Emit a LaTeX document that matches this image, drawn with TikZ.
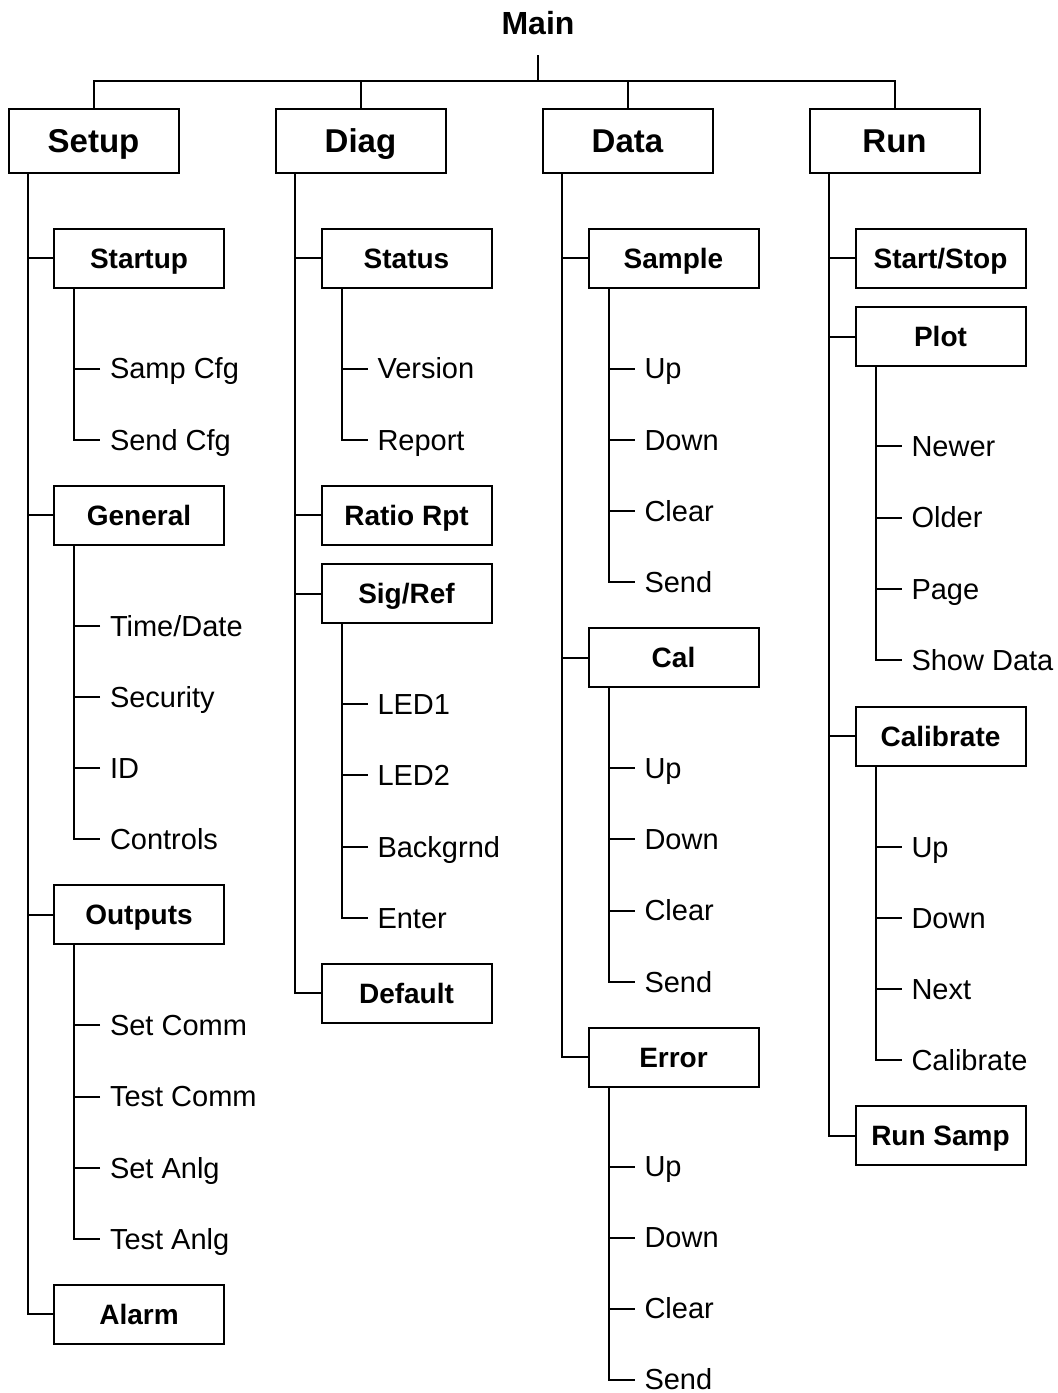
\documentclass[tikz,border=0pt]{standalone}
\usepackage{fontspec}
\setmainfont{Liberation Sans}
\usetikzlibrary{calc}
\tikzset{
  conn/.style={line width=2pt},
  topbox/.style={draw, line width=2pt, outer sep=0pt, inner sep=0pt,
    minimum width=170pt, minimum height=64pt,
    font=\bfseries\fontsize{33}{33}\selectfont, text height=23.6pt, text depth=0pt},
  subbox/.style={topbox, minimum height=59pt,
    font=\bfseries\fontsize{28}{28}\selectfont, text height=20pt},
  leaf/.style={anchor=west, inner sep=0pt, outer sep=0pt,
    font=\fontsize{29}{29}\selectfont, text height=20.8pt, text depth=0pt},
  title/.style={inner sep=0pt, outer sep=0pt,
    font=\bfseries\fontsize{32}{32}\selectfont, text height=22.9pt, text depth=0pt}
}
\begin{document}
\begin{tikzpicture}[x=1pt,y=-1pt]
\useasboundingbox (0,0) rectangle (1058,1393);

% ---------- root ----------
\node[title] (Main) at (538,23) {Main};
\coordinate (bus) at (538,81);

\node[topbox] (Setup) at (93.5,141) {Setup};
\node[topbox] (Diag)  at (360.5,141) {Diag};
\node[topbox] (Data)  at (627.5,141) {Data};
\node[topbox] (Run)   at (894.5,141) {Run};

\draw[conn, shorten <=21pt] (Main.south) -- (bus);
\draw[conn] (Setup.north) |- (bus) -| (Run.north);
\draw[conn] (Diag.north) -- (Diag.north |- bus);
\draw[conn] (Data.north) -- (Data.north |- bus);

\coordinate (tSetup) at ($(Setup.south west)+(19.5,0)$);
\coordinate (tDiag)  at ($(Diag.south west)+(19.5,0)$);
\coordinate (tData)  at ($(Data.south west)+(19.5,0)$);
\coordinate (tRun)   at ($(Run.south west)+(19.5,0)$);

% ---------- Setup ----------
\node[subbox] (Startup) at (139,258) {Startup};
\node[subbox] (General) at (139,515.2) {General};
\node[subbox] (Outputs) at (139,914.8) {Outputs};
\node[subbox] (Alarm)   at (139,1314.4) {Alarm};
\draw[conn] (tSetup) |- (Alarm.west);
\foreach \n in {Startup,General,Outputs} \draw[conn] (\n.west) -- (\n.west -| tSetup);

\node[leaf] (SampCfg) at (110,368.5) {Samp Cfg};
\node[leaf] (SendCfg) at (110,439.7) {Send Cfg};
\coordinate (cStartup) at ($(Startup.south west)+(20,0)$);
\draw[conn] (cStartup) |- ([xshift=-10pt]SendCfg.west);
\draw[conn] ([xshift=-10pt]SampCfg.west) -- (SampCfg.west -| cStartup);

\node[leaf] (TimeDate) at (110,625.7) {Time/Date};
\node[leaf] (Security) at (110,696.9) {Security};
\node[leaf] (ID)       at (110,768.1) {ID};
\node[leaf] (Controls) at (110,839.3) {Controls};
\coordinate (cGeneral) at ($(General.south west)+(20,0)$);
\draw[conn] (cGeneral) |- ([xshift=-10pt]Controls.west);
\foreach \n in {TimeDate,Security,ID} \draw[conn] ([xshift=-10pt]\n.west) -- (\n.west -| cGeneral);

\node[leaf] (SetComm)  at (110,1025.3) {Set Comm};
\node[leaf] (TestComm) at (110,1096.5) {Test Comm};
\node[leaf] (SetAnlg)  at (110,1167.7) {Set Anlg};
\node[leaf] (TestAnlg) at (110,1238.9) {Test Anlg};
\coordinate (cOutputs) at ($(Outputs.south west)+(20,0)$);
\draw[conn] (cOutputs) |- ([xshift=-10pt]TestAnlg.west);
\foreach \n in {SetComm,TestComm,SetAnlg} \draw[conn] ([xshift=-10pt]\n.west) -- (\n.west -| cOutputs);

% ---------- Diag ----------
\node[subbox] (Status)   at (406.5,258) {Status};
\node[subbox] (RatioRpt) at (406.5,515.2) {Ratio Rpt};
\node[subbox] (SigRef)   at (406.5,593.7) {Sig/Ref};
\node[subbox] (Default)  at (406.5,993.3) {Default};
\draw[conn] (tDiag) |- (Default.west);
\foreach \n in {Status,RatioRpt,SigRef} \draw[conn] (\n.west) -- (\n.west -| tDiag);

\node[leaf] (Version) at (377.5,368.5) {Version};
\node[leaf] (Report)  at (377.5,439.7) {Report};
\coordinate (cStatus) at ($(Status.south west)+(20,0)$);
\draw[conn] (cStatus) |- ([xshift=-10pt]Report.west);
\draw[conn] ([xshift=-10pt]Version.west) -- (Version.west -| cStatus);

\node[leaf] (LEDa)     at (377.5,704.2) {LED1};
\node[leaf] (LEDb)     at (377.5,775.4) {LED2};
\node[leaf] (Backgrnd) at (377.5,846.6) {Backgrnd};
\node[leaf] (Enter)    at (377.5,917.8) {Enter};
\coordinate (cSigRef) at ($(SigRef.south west)+(20,0)$);
\draw[conn] (cSigRef) |- ([xshift=-10pt]Enter.west);
\foreach \n in {LEDa,LEDb,Backgrnd} \draw[conn] ([xshift=-10pt]\n.west) -- (\n.west -| cSigRef);

% ---------- Data ----------
\node[subbox] (Sample) at (673.5,258) {Sample};
\node[subbox] (Cal)    at (673.5,657.6) {Cal};
\node[subbox] (Error)  at (673.5,1057) {Error};
\draw[conn] (tData) |- (Error.west);
\foreach \n in {Sample,Cal} \draw[conn] (\n.west) -- (\n.west -| tData);

\node[leaf] (UpA)    at (644.5,368.5) {Up};
\node[leaf] (DownA)  at (644.5,439.7) {Down};
\node[leaf] (ClearA) at (644.5,510.9) {Clear};
\node[leaf] (SendA)  at (644.5,582.1) {Send};
\coordinate (cSample) at ($(Sample.south west)+(20,0)$);
\draw[conn] (cSample) |- ([xshift=-10pt]SendA.west);
\foreach \n in {UpA,DownA,ClearA} \draw[conn] ([xshift=-10pt]\n.west) -- (\n.west -| cSample);

\node[leaf] (UpB)    at (644.5,768.1) {Up};
\node[leaf] (DownB)  at (644.5,839.3) {Down};
\node[leaf] (ClearB) at (644.5,910.5) {Clear};
\node[leaf] (SendB)  at (644.5,981.7) {Send};
\coordinate (cCal) at ($(Cal.south west)+(20,0)$);
\draw[conn] (cCal) |- ([xshift=-10pt]SendB.west);
\foreach \n in {UpB,DownB,ClearB} \draw[conn] ([xshift=-10pt]\n.west) -- (\n.west -| cCal);

\node[leaf] (UpC)    at (644.5,1166.5) {Up};
\node[leaf] (DownC)  at (644.5,1237.5) {Down};
\node[leaf] (ClearC) at (644.5,1308.5) {Clear};
\node[leaf] (SendC)  at (644.5,1379.5) {Send};
\coordinate (cError) at ($(Error.south west)+(20,0)$);
\draw[conn] (cError) |- ([xshift=-10pt]SendC.west);
\foreach \n in {UpC,DownC,ClearC} \draw[conn] ([xshift=-10pt]\n.west) -- (\n.west -| cError);

% ---------- Run ----------
\node[subbox] (StartStop) at (940.5,258) {Start/Stop};
\node[subbox] (Plot)      at (940.5,336.5) {Plot};
\node[subbox] (Calibrate) at (940.5,736.1) {Calibrate};
\node[subbox] (RunSamp)   at (940.5,1135.7) {Run Samp};
\draw[conn] (tRun) |- (RunSamp.west);
\foreach \n in {StartStop,Plot,Calibrate} \draw[conn] (\n.west) -- (\n.west -| tRun);

\node[leaf] (Newer)    at (911.5,446) {Newer};
\node[leaf] (Older)    at (911.5,517.5) {Older};
\node[leaf] (Page)     at (911.5,588.8) {Page};
\node[leaf] (ShowData) at (911.5,660) {Show Data};
\coordinate (cPlot) at ($(Plot.south west)+(20,0)$);
\draw[conn] (cPlot) |- ([xshift=-10pt]ShowData.west);
\foreach \n in {Newer,Older,Page} \draw[conn] ([xshift=-10pt]\n.west) -- (\n.west -| cPlot);

\node[leaf] (UpD)    at (911.5,846.6) {Up};
\node[leaf] (DownD)  at (911.5,917.8) {Down};
\node[leaf] (Next)   at (911.5,989) {Next};
\node[leaf] (CalibD) at (911.5,1060.2) {Calibrate};
\coordinate (cCalibrate) at ($(Calibrate.south west)+(20,0)$);
\draw[conn] (cCalibrate) |- ([xshift=-10pt]CalibD.west);
\foreach \n in {UpD,DownD,Next} \draw[conn] ([xshift=-10pt]\n.west) -- (\n.west -| cCalibrate);
\end{tikzpicture}
\end{document}
